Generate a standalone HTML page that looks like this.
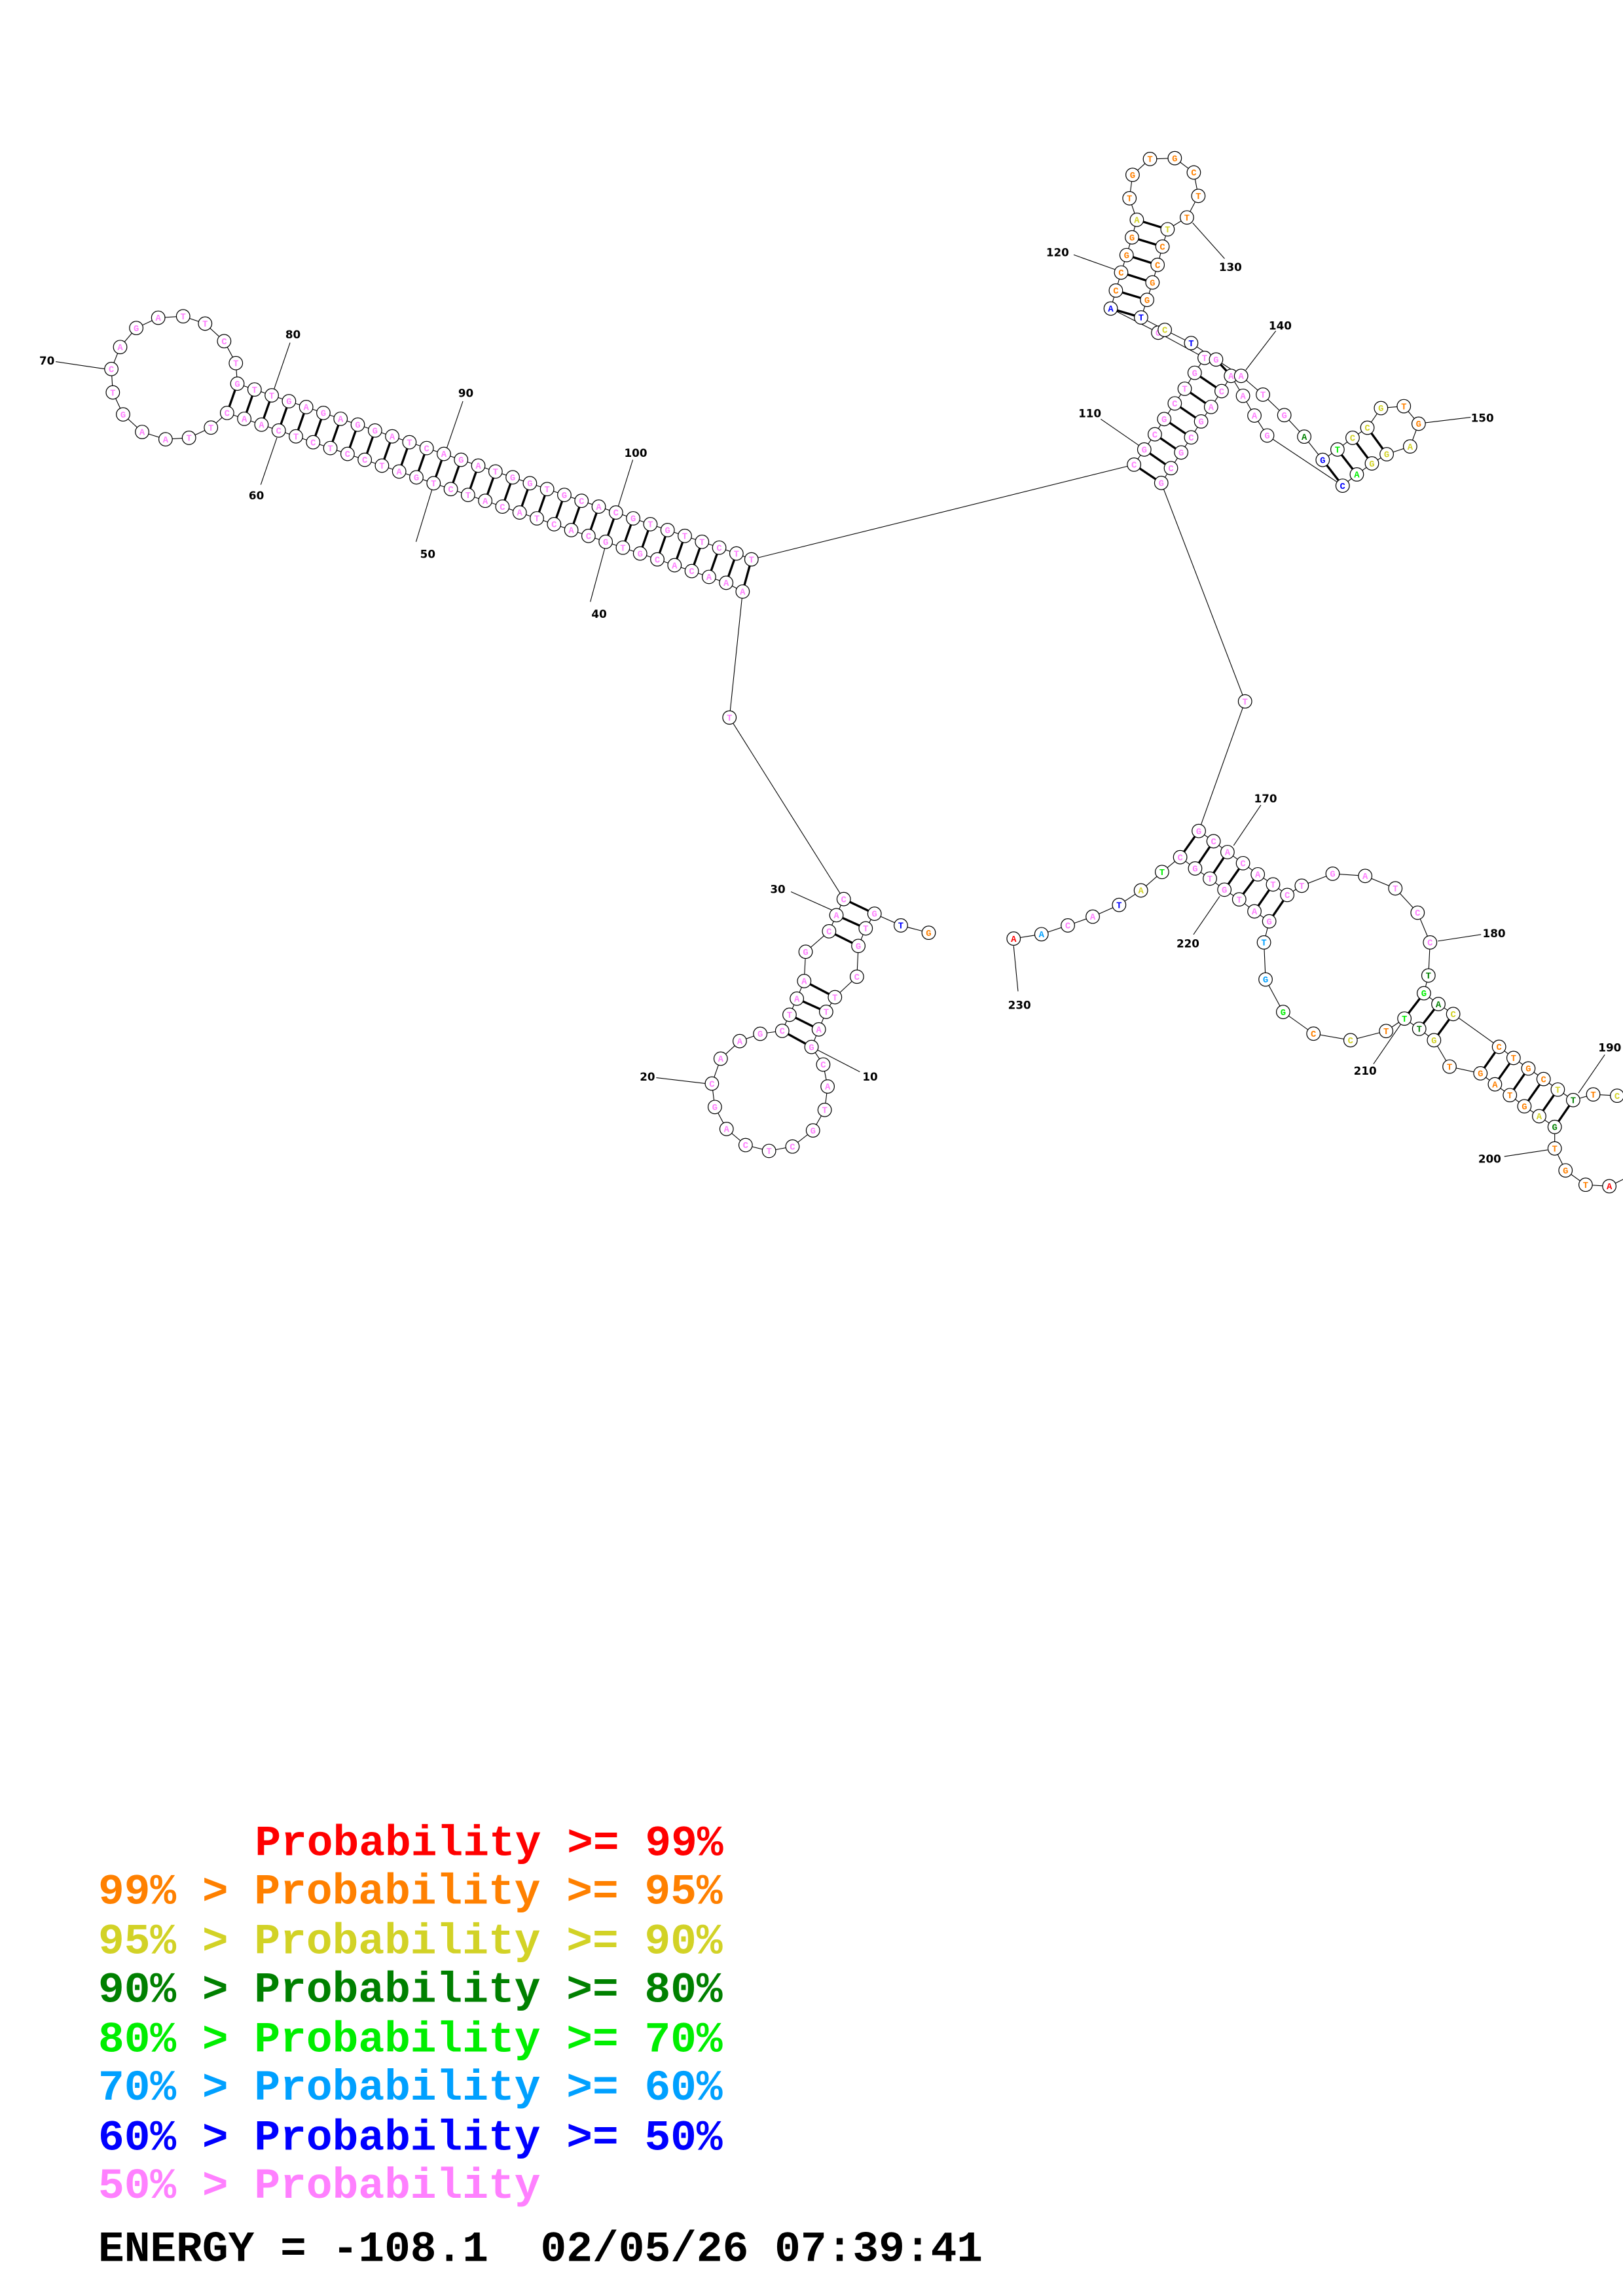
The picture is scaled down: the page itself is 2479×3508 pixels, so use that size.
<!DOCTYPE html>
<html><head><meta charset="utf-8">
<style>
html,body{margin:0;padding:0;background:#fff;}
svg{display:block;}
circle{fill:#fff;stroke:#000;stroke-width:0.55;}
.b{fill:none;stroke:#000;stroke-width:0.5;}
.p{stroke:#000;stroke-width:1.5;}
text.n{font-family:"Liberation Mono",monospace;font-weight:bold;font-size:6.2px;text-anchor:middle;fill:#ff80ff;}
text.l{font-family:"DejaVu Sans","Liberation Sans",sans-serif;font-weight:bold;font-size:7.5px;text-anchor:middle;fill:#000;}
text.g{font-family:"Liberation Mono",monospace;font-weight:bold;font-size:29.6px;white-space:pre;}
.r{fill:#ff0000!important}.o{fill:#ff8000!important}.y{fill:#d2d226!important}.dg{fill:#008000!important}.gr{fill:#00ee00!important}.lb{fill:#00a0ff!important}.bl{fill:#0000ff!important}.pk{fill:#ff80ff!important}
</style></head><body>
<svg width="2479" height="3508" viewBox="0 0 1108 1568" xmlns="http://www.w3.org/2000/svg">
<!-- backbones -->
<polyline class="b" points="513,382 502.75,378 491,374 479.25,370 467.5,366 455.75,362 444,358 432.25,354 420.5,350 408.75,346 397,342 385.25,338 373.5,334 361.75,330 350,326 338.25,322 326.5,318 314.75,314 303,310 291.25,306 279.5,302 267.75,298 256,294 244.25,290 232.5,286 220.75,282 209,278 197.25,274 185.5,270 173.75,266 162,262 161,248 153,233 140,221 125,216 108,217 93,224 82,237 76,252 77,268 84,283 97,295 113,300 129,299 144,292 155,282 166.75,286 178.5,290 190.25,294 202,298 213.75,302 225.5,306 237.25,310 249,314 260.75,318 272.5,322 284.25,326 296,330 307.75,334 319.5,338 331.25,342 343,346 354.75,350 366.5,354 378.25,358 390,362 401.75,366 413.5,370 425.25,374 437,378 448.75,382 460.5,386 472.25,390 484,394 495.75,398 507,404 498,490 576,614"/>
<polyline class="b" points="634,637 615,632 597,624 591,634 586,646 585,667 570,681 564,691 559,703 554,715 562,727 565,742 563,758 555,772 541,783 525,786 509,782 496,771 488,756 486,740 492,723 505,711 519,706 534,704 539,693 544,682 549,670 550,650 566,636 571,625 576,614"/>
<polyline class="b" points="513,382 774.2,317.3 781.2,307 788.4,296.6 794.8,286.2 802,275.5 808.8,265.5 815.6,254.6 822.4,244.4 790.7,227.2 758.3,210.7 761.8,198.4 765.4,186.1 769.1,174.2 772.8,162.1 776.1,150.1 771.1,135.4 773.2,119.4 785.1,108.6 802,108 815,117.8 818.1,133.8 810.3,148.5 797.1,156.6 793.6,168.4 790.3,180.9 786.8,192.9 783.1,204.8 779,216.8 795.2,225.3 813.2,234.3 830.2,245.5 847.3,256.7 862.2,269.5 876.8,283.5 890.4,298.2 903,314.1 913.1,307 923.4,299 933.5,292.1 942.8,278.7 958.4,277.4 968.5,289.4 962.7,304.9 946.7,310.2 936.6,316.5 926.3,324 916.6,331.7 865.1,297.4 856.4,283.8 848.6,270.3 840.4,256.7 834,267.1 826.8,277.9 820,287.8 813.2,298.7 806.4,309 799.4,319.7 792.8,329.8 850,479 818.4,567.5"/>
<polyline class="b" points="818.4,567.5 828.5,574.5 838,581.9 848.6,589.5 858.7,597.1 869.1,604 878.8,611.2 888.7,604.9 909.8,596.7 932,598.2 952.6,606.7 967.8,623.3 976.3,643.6 975.2,666.2 972.1,678.3 982,685.7 992.1,692.5 1023.4,714.9 1033.3,722.5 1043.4,729.7 1053.8,736.9 1063.5,744.1 1074,751.3 1087.7,747.4 1104,748.3 1115,748"/>
<polyline class="b" points="1115,802 1098.7,810.1 1082.5,809.1 1068.8,799.3 1061.4,784.3 1061.4,769.6 1050.8,762.3 1040.7,755.5 1030.8,747.9 1020.6,740.5 1010.7,733 989.6,728.4 979,710.4 968.9,702.6 958.8,695.6 946.3,704.1 922,710.4 896.7,705.9 876,691.1 864,668.9 862.9,643.6 866.5,629.2 856.4,622.4 846,614.2 835.9,607.6 826,600 815.9,593.1 805.7,585.4 793.3,595.5 778.9,608.1 764,618 746,626 729,632 711,638 692,641"/>
<!-- pair lines -->
<g class="p">
<line x1="162" y1="262" x2="155" y2="282"/><line x1="173.75" y1="266" x2="166.75" y2="286"/><line x1="185.5" y1="270" x2="178.5" y2="290"/><line x1="197.25" y1="274" x2="190.25" y2="294"/><line x1="209" y1="278" x2="202" y2="298"/><line x1="220.75" y1="282" x2="213.75" y2="302"/><line x1="232.5" y1="286" x2="225.5" y2="306"/><line x1="244.25" y1="290" x2="237.25" y2="310"/><line x1="256" y1="294" x2="249" y2="314"/><line x1="267.75" y1="298" x2="260.75" y2="318"/><line x1="279.5" y1="302" x2="272.5" y2="322"/><line x1="291.25" y1="306" x2="284.25" y2="326"/><line x1="303" y1="310" x2="296" y2="330"/><line x1="314.75" y1="314" x2="307.75" y2="334"/><line x1="326.5" y1="318" x2="319.5" y2="338"/><line x1="338.25" y1="322" x2="331.25" y2="342"/><line x1="350" y1="326" x2="343" y2="346"/><line x1="361.75" y1="330" x2="354.75" y2="350"/><line x1="373.5" y1="334" x2="366.5" y2="354"/><line x1="385.25" y1="338" x2="378.25" y2="358"/><line x1="397" y1="342" x2="390" y2="362"/><line x1="408.75" y1="346" x2="401.75" y2="366"/><line x1="420.5" y1="350" x2="413.5" y2="370"/><line x1="432.25" y1="354" x2="425.25" y2="374"/><line x1="444" y1="358" x2="437" y2="378"/><line x1="455.75" y1="362" x2="448.75" y2="382"/><line x1="467.5" y1="366" x2="460.5" y2="386"/><line x1="479.25" y1="370" x2="472.25" y2="390"/><line x1="491" y1="374" x2="484" y2="394"/><line x1="502.75" y1="378" x2="495.75" y2="398"/><line x1="513" y1="382" x2="507" y2="404"/>
<line x1="576" y1="614" x2="597" y2="624"/><line x1="571" y1="625" x2="591" y2="634"/><line x1="566" y1="636" x2="586" y2="646"/>
<line x1="549" y1="670" x2="570" y2="681"/><line x1="544" y1="682" x2="564" y2="691"/><line x1="539" y1="693" x2="559" y2="703"/><line x1="534" y1="704" x2="554" y2="715"/>
<line x1="815.6" y1="254.6" x2="834" y2="267.1"/><line x1="808.8" y1="265.5" x2="826.8" y2="277.9"/><line x1="802" y1="275.5" x2="820" y2="287.8"/><line x1="794.8" y1="286.2" x2="813.2" y2="298.7"/><line x1="788.4" y1="296.6" x2="806.4" y2="309"/><line x1="781.2" y1="307" x2="799.4" y2="319.7"/><line x1="774.2" y1="317.3" x2="792.8" y2="329.8"/>
<line x1="830.2" y1="245.5" x2="840.4" y2="256.7"/>
<line x1="776.1" y1="150.1" x2="797.1" y2="156.6"/><line x1="772.8" y1="162.1" x2="793.6" y2="168.4"/><line x1="769.1" y1="174.2" x2="790.3" y2="180.9"/><line x1="765.4" y1="186.1" x2="786.8" y2="192.9"/><line x1="761.8" y1="198.4" x2="783.1" y2="204.8"/><line x1="758.3" y1="210.7" x2="779" y2="216.8"/>
<line x1="903" y1="314.1" x2="916.6" y2="331.7"/><line x1="913.1" y1="307" x2="926.3" y2="324"/><line x1="923.4" y1="299" x2="936.6" y2="316.5"/><line x1="933.5" y1="292.1" x2="946.7" y2="310.2"/>
<line x1="818.4" y1="567.5" x2="805.7" y2="585.4"/><line x1="828.5" y1="574.5" x2="815.9" y2="593.1"/><line x1="838" y1="581.9" x2="826" y2="600"/><line x1="848.6" y1="589.5" x2="835.9" y2="607.6"/><line x1="858.7" y1="597.1" x2="846" y2="614.2"/><line x1="869.1" y1="604" x2="856.4" y2="622.4"/><line x1="878.8" y1="611.2" x2="866.5" y2="629.2"/>
<line x1="972.1" y1="678.3" x2="958.8" y2="695.6"/><line x1="982" y1="685.7" x2="968.9" y2="702.6"/><line x1="992.1" y1="692.5" x2="979" y2="710.4"/><line x1="1023.4" y1="714.9" x2="1010.7" y2="733"/><line x1="1033.3" y1="722.5" x2="1020.6" y2="740.5"/><line x1="1043.4" y1="729.7" x2="1030.8" y2="747.9"/><line x1="1053.8" y1="736.9" x2="1040.7" y2="755.5"/><line x1="1063.5" y1="744.1" x2="1050.8" y2="762.3"/><line x1="1074" y1="751.3" x2="1061.4" y2="769.6"/>
</g>
<!-- label lines -->
<g class="b">
<line x1="38" y1="247" x2="72" y2="252"/><line x1="198" y1="234" x2="187" y2="266"/><line x1="189" y1="299" x2="178" y2="331"/><line x1="316" y1="274" x2="305" y2="306"/><line x1="295" y1="334" x2="284" y2="370"/><line x1="432" y1="314" x2="422" y2="346"/><line x1="413" y1="374" x2="403" y2="411"/>
<line x1="540" y1="609" x2="569" y2="622"/><line x1="448" y1="736" x2="482" y2="740"/><line x1="558" y1="717" x2="587" y2="732"/>
<line x1="733" y1="174" x2="761" y2="184"/><line x1="814.2" y1="152.2" x2="836" y2="176.6"/><line x1="850.5" y1="252.7" x2="871" y2="226"/><line x1="751.5" y1="286.2" x2="777.7" y2="304.3"/><line x1="973" y1="288.7" x2="1004" y2="285"/>
<line x1="860.8" y1="549.8" x2="842.2" y2="577.4"/><line x1="814.8" y1="638.2" x2="832.7" y2="612.1"/><line x1="981.6" y1="642.7" x2="1011.1" y2="638.2"/><line x1="937.7" y1="726.6" x2="956.2" y2="699.6"/><line x1="1095.6" y1="720.3" x2="1077.6" y2="746.5"/><line x1="1027" y1="789.8" x2="1056.5" y2="785.3"/><line x1="692" y1="646" x2="695" y2="677"/>
</g>
<!-- nucleotides -->
<g id="nodes">
<!-- upper stem -->
<circle cx="162" cy="262" r="4.6"/><text class="n" x="162" y="264.1">G</text>
<circle cx="173.75" cy="266" r="4.6"/><text class="n" x="173.75" y="268.1">T</text>
<circle cx="185.5" cy="270" r="4.6"/><text class="n" x="185.5" y="272.1">T</text>
<circle cx="197.25" cy="274" r="4.6"/><text class="n" x="197.25" y="276.1">G</text>
<circle cx="209" cy="278" r="4.6"/><text class="n" x="209" y="280.1">A</text>
<circle cx="220.75" cy="282" r="4.6"/><text class="n" x="220.75" y="284.1">G</text>
<circle cx="232.5" cy="286" r="4.6"/><text class="n" x="232.5" y="288.1">A</text>
<circle cx="244.25" cy="290" r="4.6"/><text class="n" x="244.25" y="292.1">G</text>
<circle cx="256" cy="294" r="4.6"/><text class="n" x="256" y="296.1">G</text>
<circle cx="267.75" cy="298" r="4.6"/><text class="n" x="267.75" y="300.1">A</text>
<circle cx="279.5" cy="302" r="4.6"/><text class="n" x="279.5" y="304.1">T</text>
<circle cx="291.25" cy="306" r="4.6"/><text class="n" x="291.25" y="308.1">C</text>
<circle cx="303" cy="310" r="4.6"/><text class="n" x="303" y="312.1">A</text>
<circle cx="314.75" cy="314" r="4.6"/><text class="n" x="314.75" y="316.1">G</text>
<circle cx="326.5" cy="318" r="4.6"/><text class="n" x="326.5" y="320.1">A</text>
<circle cx="338.25" cy="322" r="4.6"/><text class="n" x="338.25" y="324.1">T</text>
<circle cx="350" cy="326" r="4.6"/><text class="n" x="350" y="328.1">G</text>
<circle cx="361.75" cy="330" r="4.6"/><text class="n" x="361.75" y="332.1">G</text>
<circle cx="373.5" cy="334" r="4.6"/><text class="n" x="373.5" y="336.1">T</text>
<circle cx="385.25" cy="338" r="4.6"/><text class="n" x="385.25" y="340.1">G</text>
<circle cx="397" cy="342" r="4.6"/><text class="n" x="397" y="344.1">C</text>
<circle cx="408.75" cy="346" r="4.6"/><text class="n" x="408.75" y="348.1">A</text>
<circle cx="420.5" cy="350" r="4.6"/><text class="n" x="420.5" y="352.1">C</text>
<circle cx="432.25" cy="354" r="4.6"/><text class="n" x="432.25" y="356.1">G</text>
<circle cx="444" cy="358" r="4.6"/><text class="n" x="444" y="360.1">T</text>
<circle cx="455.75" cy="362" r="4.6"/><text class="n" x="455.75" y="364.1">G</text>
<circle cx="467.5" cy="366" r="4.6"/><text class="n" x="467.5" y="368.1">T</text>
<circle cx="479.25" cy="370" r="4.6"/><text class="n" x="479.25" y="372.1">T</text>
<circle cx="491" cy="374" r="4.6"/><text class="n" x="491" y="376.1">C</text>
<circle cx="502.75" cy="378" r="4.6"/><text class="n" x="502.75" y="380.1">T</text>
<circle cx="513" cy="382" r="4.6"/><text class="n" x="513" y="384.1">T</text>
<!-- lower stem -->
<circle cx="155" cy="282" r="4.6"/><text class="n" x="155" y="284.1">C</text>
<circle cx="166.75" cy="286" r="4.6"/><text class="n" x="166.75" y="288.1">A</text>
<circle cx="178.5" cy="290" r="4.6"/><text class="n" x="178.5" y="292.1">A</text>
<circle cx="190.25" cy="294" r="4.6"/><text class="n" x="190.25" y="296.1">C</text>
<circle cx="202" cy="298" r="4.6"/><text class="n" x="202" y="300.1">T</text>
<circle cx="213.75" cy="302" r="4.6"/><text class="n" x="213.75" y="304.1">C</text>
<circle cx="225.5" cy="306" r="4.6"/><text class="n" x="225.5" y="308.1">T</text>
<circle cx="237.25" cy="310" r="4.6"/><text class="n" x="237.25" y="312.1">C</text>
<circle cx="249" cy="314" r="4.6"/><text class="n" x="249" y="316.1">C</text>
<circle cx="260.75" cy="318" r="4.6"/><text class="n" x="260.75" y="320.1">T</text>
<circle cx="272.5" cy="322" r="4.6"/><text class="n" x="272.5" y="324.1">A</text>
<circle cx="284.25" cy="326" r="4.6"/><text class="n" x="284.25" y="328.1">G</text>
<circle cx="296" cy="330" r="4.6"/><text class="n" x="296" y="332.1">T</text>
<circle cx="307.75" cy="334" r="4.6"/><text class="n" x="307.75" y="336.1">C</text>
<circle cx="319.5" cy="338" r="4.6"/><text class="n" x="319.5" y="340.1">T</text>
<circle cx="331.25" cy="342" r="4.6"/><text class="n" x="331.25" y="344.1">A</text>
<circle cx="343" cy="346" r="4.6"/><text class="n" x="343" y="348.1">C</text>
<circle cx="354.75" cy="350" r="4.6"/><text class="n" x="354.75" y="352.1">A</text>
<circle cx="366.5" cy="354" r="4.6"/><text class="n" x="366.5" y="356.1">T</text>
<circle cx="378.25" cy="358" r="4.6"/><text class="n" x="378.25" y="360.1">C</text>
<circle cx="390" cy="362" r="4.6"/><text class="n" x="390" y="364.1">A</text>
<circle cx="401.75" cy="366" r="4.6"/><text class="n" x="401.75" y="368.1">C</text>
<circle cx="413.5" cy="370" r="4.6"/><text class="n" x="413.5" y="372.1">G</text>
<circle cx="425.25" cy="374" r="4.6"/><text class="n" x="425.25" y="376.1">T</text>
<circle cx="437" cy="378" r="4.6"/><text class="n" x="437" y="380.1">G</text>
<circle cx="448.75" cy="382" r="4.6"/><text class="n" x="448.75" y="384.1">C</text>
<circle cx="460.5" cy="386" r="4.6"/><text class="n" x="460.5" y="388.1">A</text>
<circle cx="472.25" cy="390" r="4.6"/><text class="n" x="472.25" y="392.1">C</text>
<circle cx="484" cy="394" r="4.6"/><text class="n" x="484" y="396.1">A</text>
<circle cx="495.75" cy="398" r="4.6"/><text class="n" x="495.75" y="400.1">A</text>
<circle cx="507" cy="404" r="4.6"/><text class="n" x="507" y="406.1">A</text>
<!-- loop 70 -->
<circle cx="161" cy="248" r="4.6"/><text class="n" x="161" y="250.1">T</text>
<circle cx="153" cy="233" r="4.6"/><text class="n" x="153" y="235.1">C</text>
<circle cx="140" cy="221" r="4.6"/><text class="n" x="140" y="223.1">T</text>
<circle cx="125" cy="216" r="4.6"/><text class="n" x="125" y="218.1">T</text>
<circle cx="108" cy="217" r="4.6"/><text class="n" x="108" y="219.1">A</text>
<circle cx="93" cy="224" r="4.6"/><text class="n" x="93" y="226.1">G</text>
<circle cx="82" cy="237" r="4.6"/><text class="n" x="82" y="239.1">A</text>
<circle cx="76" cy="252" r="4.6"/><text class="n" x="76" y="254.1">C</text>
<circle cx="77" cy="268" r="4.6"/><text class="n" x="77" y="270.1">T</text>
<circle cx="84" cy="283" r="4.6"/><text class="n" x="84" y="285.1">G</text>
<circle cx="97" cy="295" r="4.6"/><text class="n" x="97" y="297.1">A</text>
<circle cx="113" cy="300" r="4.6"/><text class="n" x="113" y="302.1">A</text>
<circle cx="129" cy="299" r="4.6"/><text class="n" x="129" y="301.1">T</text>
<circle cx="144" cy="292" r="4.6"/><text class="n" x="144" y="294.1">T</text>
<circle cx="498" cy="490" r="4.6"/><text class="n" x="498" y="492.1">T</text>
<!-- bottom left -->
<circle cx="634" cy="637" r="4.6"/><text class="n o" x="634" y="639.1">G</text>
<circle cx="615" cy="632" r="4.6"/><text class="n bl" x="615" y="634.1">T</text>
<circle cx="597" cy="624" r="4.6"/><text class="n" x="597" y="626.1">G</text>
<circle cx="591" cy="634" r="4.6"/><text class="n" x="591" y="636.1">T</text>
<circle cx="586" cy="646" r="4.6"/><text class="n" x="586" y="648.1">G</text>
<circle cx="585" cy="667" r="4.6"/><text class="n" x="585" y="669.1">C</text>
<circle cx="570" cy="681" r="4.6"/><text class="n" x="570" y="683.1">T</text>
<circle cx="564" cy="691" r="4.6"/><text class="n" x="564" y="693.1">T</text>
<circle cx="559" cy="703" r="4.6"/><text class="n" x="559" y="705.1">A</text>
<circle cx="554" cy="715" r="4.6"/><text class="n" x="554" y="717.1">G</text>
<circle cx="562" cy="727" r="4.6"/><text class="n" x="562" y="729.1">C</text>
<circle cx="565" cy="742" r="4.6"/><text class="n" x="565" y="744.1">A</text>
<circle cx="563" cy="758" r="4.6"/><text class="n" x="563" y="760.1">T</text>
<circle cx="555" cy="772" r="4.6"/><text class="n" x="555" y="774.1">G</text>
<circle cx="541" cy="783" r="4.6"/><text class="n" x="541" y="785.1">C</text>
<circle cx="525" cy="786" r="4.6"/><text class="n" x="525" y="788.1">T</text>
<circle cx="509" cy="782" r="4.6"/><text class="n" x="509" y="784.1">C</text>
<circle cx="496" cy="771" r="4.6"/><text class="n" x="496" y="773.1">A</text>
<circle cx="488" cy="756" r="4.6"/><text class="n" x="488" y="758.1">G</text>
<circle cx="486" cy="740" r="4.6"/><text class="n" x="486" y="742.1">C</text>
<circle cx="492" cy="723" r="4.6"/><text class="n" x="492" y="725.1">A</text>
<circle cx="505" cy="711" r="4.6"/><text class="n" x="505" y="713.1">A</text>
<circle cx="519" cy="706" r="4.6"/><text class="n" x="519" y="708.1">G</text>
<circle cx="534" cy="704" r="4.6"/><text class="n" x="534" y="706.1">C</text>
<circle cx="539" cy="693" r="4.6"/><text class="n" x="539" y="695.1">T</text>
<circle cx="544" cy="682" r="4.6"/><text class="n" x="544" y="684.1">A</text>
<circle cx="549" cy="670" r="4.6"/><text class="n" x="549" y="672.1">A</text>
<circle cx="550" cy="650" r="4.6"/><text class="n" x="550" y="652.1">G</text>
<circle cx="566" cy="636" r="4.6"/><text class="n" x="566" y="638.1">C</text>
<circle cx="571" cy="625" r="4.6"/><text class="n" x="571" y="627.1">A</text>
<circle cx="576" cy="614" r="4.6"/><text class="n" x="576" y="616.1">C</text>
<!-- top right -->
<circle cx="774.2" cy="317.3" r="4.6"/><text class="n" x="774.2" y="319.4">C</text>
<circle cx="781.2" cy="307" r="4.6"/><text class="n" x="781.2" y="309.1">G</text>
<circle cx="788.4" cy="296.6" r="4.6"/><text class="n" x="788.4" y="298.7">C</text>
<circle cx="794.8" cy="286.2" r="4.6"/><text class="n" x="794.8" y="288.3">G</text>
<circle cx="802" cy="275.5" r="4.6"/><text class="n" x="802" y="277.6">C</text>
<circle cx="808.8" cy="265.5" r="4.6"/><text class="n" x="808.8" y="267.6">T</text>
<circle cx="815.6" cy="254.6" r="4.6"/><text class="n" x="815.6" y="256.7">G</text>
<circle cx="834" cy="267.1" r="4.6"/><text class="n" x="834" y="269.2">C</text>
<circle cx="826.8" cy="277.9" r="4.6"/><text class="n" x="826.8" y="280">A</text>
<circle cx="820" cy="287.8" r="4.6"/><text class="n" x="820" y="289.9">G</text>
<circle cx="813.2" cy="298.7" r="4.6"/><text class="n" x="813.2" y="300.8">C</text>
<circle cx="806.4" cy="309" r="4.6"/><text class="n" x="806.4" y="311.1">G</text>
<circle cx="799.4" cy="319.7" r="4.6"/><text class="n" x="799.4" y="321.8">C</text>
<circle cx="792.8" cy="329.8" r="4.6"/><text class="n" x="792.8" y="331.9">G</text>
<circle cx="822.4" cy="244.4" r="4.6"/><text class="n" x="822.4" y="246.5">T</text>
<circle cx="830.2" cy="245.5" r="4.6"/><text class="n" x="830.2" y="247.6">G</text>
<circle cx="840.4" cy="256.7" r="4.6"/><text class="n" x="840.4" y="258.8">A</text>
<circle cx="847.3" cy="256.7" r="4.6"/><text class="n" x="847.3" y="258.8">A</text>
<circle cx="848.6" cy="270.3" r="4.6"/><text class="n" x="848.6" y="272.4">A</text>
<circle cx="862.2" cy="269.5" r="4.6"/><text class="n" x="862.2" y="271.6">T</text>
<circle cx="856.4" cy="283.8" r="4.6"/><text class="n" x="856.4" y="285.9">A</text>
<circle cx="876.8" cy="283.5" r="4.6"/><text class="n" x="876.8" y="285.6">G</text>
<circle cx="865.1" cy="297.4" r="4.6"/><text class="n" x="865.1" y="299.5">G</text>
<circle cx="890.4" cy="298.2" r="4.6"/><text class="n dg" x="890.4" y="300.3">A</text>
<circle cx="903" cy="314.1" r="4.6"/><text class="n bl" x="903" y="316.2">G</text>
<circle cx="916.6" cy="331.7" r="4.6"/><text class="n bl" x="916.6" y="333.8">C</text>
<circle cx="913.1" cy="307" r="4.6"/><text class="n gr" x="913.1" y="309.1">T</text>
<circle cx="926.3" cy="324" r="4.6"/><text class="n gr" x="926.3" y="326.1">A</text>
<circle cx="923.4" cy="299" r="4.6"/><text class="n y" x="923.4" y="301.1">C</text>
<circle cx="936.6" cy="316.5" r="4.6"/><text class="n y" x="936.6" y="318.6">G</text>
<circle cx="933.5" cy="292.1" r="4.6"/><text class="n y" x="933.5" y="294.2">C</text>
<circle cx="946.7" cy="310.2" r="4.6"/><text class="n y" x="946.7" y="312.3">G</text>
<circle cx="942.8" cy="278.7" r="4.6"/><text class="n y" x="942.8" y="280.8">G</text>
<circle cx="958.4" cy="277.4" r="4.6"/><text class="n o" x="958.4" y="279.5">T</text>
<circle cx="968.5" cy="289.4" r="4.6"/><text class="n o" x="968.5" y="291.5">G</text>
<circle cx="962.7" cy="304.9" r="4.6"/><text class="n y" x="962.7" y="307">A</text>
<circle cx="790.7" cy="227.2" r="4.6"/><text class="n" x="790.7" y="229.3">C</text>
<circle cx="795.2" cy="225.3" r="4.6"/><text class="n y" x="795.2" y="227.4">C</text>
<circle cx="813.2" cy="234.3" r="4.6"/><text class="n bl" x="813.2" y="236.4">T</text>
<circle cx="758.3" cy="210.7" r="4.6"/><text class="n bl" x="758.3" y="212.8">A</text>
<circle cx="779" cy="216.8" r="4.6"/><text class="n bl" x="779" y="218.9">T</text>
<circle cx="761.8" cy="198.4" r="4.6"/><text class="n o" x="761.8" y="200.5">C</text>
<circle cx="765.4" cy="186.1" r="4.6"/><text class="n o" x="765.4" y="188.2">C</text>
<circle cx="769.1" cy="174.2" r="4.6"/><text class="n o" x="769.1" y="176.3">G</text>
<circle cx="772.8" cy="162.1" r="4.6"/><text class="n o" x="772.8" y="164.2">G</text>
<circle cx="776.1" cy="150.1" r="4.6"/><text class="n y" x="776.1" y="152.2">A</text>
<circle cx="771.1" cy="135.4" r="4.6"/><text class="n o" x="771.1" y="137.5">T</text>
<circle cx="773.2" cy="119.4" r="4.6"/><text class="n o" x="773.2" y="121.5">G</text>
<circle cx="785.1" cy="108.6" r="4.6"/><text class="n o" x="785.1" y="110.7">T</text>
<circle cx="802" cy="108" r="4.6"/><text class="n o" x="802" y="110.1">G</text>
<circle cx="815" cy="117.8" r="4.6"/><text class="n o" x="815" y="119.9">C</text>
<circle cx="818.1" cy="133.8" r="4.6"/><text class="n o" x="818.1" y="135.9">T</text>
<circle cx="810.3" cy="148.5" r="4.6"/><text class="n o" x="810.3" y="150.6">T</text>
<circle cx="797.1" cy="156.6" r="4.6"/><text class="n y" x="797.1" y="158.7">T</text>
<circle cx="793.6" cy="168.4" r="4.6"/><text class="n o" x="793.6" y="170.5">C</text>
<circle cx="790.3" cy="180.9" r="4.6"/><text class="n o" x="790.3" y="183">C</text>
<circle cx="786.8" cy="192.9" r="4.6"/><text class="n o" x="786.8" y="195">G</text>
<circle cx="783.1" cy="204.8" r="4.6"/><text class="n o" x="783.1" y="206.9">G</text>
<circle cx="850" cy="479" r="4.6"/><text class="n" x="850" y="481.1">T</text>
<!-- bottom right -->
<circle cx="818.4" cy="567.5" r="4.6"/><text class="n" x="818.4" y="569.6">G</text>
<circle cx="828.5" cy="574.5" r="4.6"/><text class="n" x="828.5" y="576.6">C</text>
<circle cx="838" cy="581.9" r="4.6"/><text class="n" x="838" y="584">A</text>
<circle cx="848.6" cy="589.5" r="4.6"/><text class="n" x="848.6" y="591.6">C</text>
<circle cx="858.7" cy="597.1" r="4.6"/><text class="n" x="858.7" y="599.2">A</text>
<circle cx="869.1" cy="604" r="4.6"/><text class="n" x="869.1" y="606.1">T</text>
<circle cx="878.8" cy="611.2" r="4.6"/><text class="n" x="878.8" y="613.3">C</text>
<circle cx="888.7" cy="604.9" r="4.6"/><text class="n" x="888.7" y="607">T</text>
<circle cx="909.8" cy="596.7" r="4.6"/><text class="n" x="909.8" y="598.8">G</text>
<circle cx="932" cy="598.2" r="4.6"/><text class="n" x="932" y="600.3">A</text>
<circle cx="952.6" cy="606.7" r="4.6"/><text class="n" x="952.6" y="608.8">T</text>
<circle cx="967.8" cy="623.3" r="4.6"/><text class="n" x="967.8" y="625.4">C</text>
<circle cx="976.3" cy="643.6" r="4.6"/><text class="n" x="976.3" y="645.7">C</text>
<circle cx="975.2" cy="666.2" r="4.6"/><text class="n dg" x="975.2" y="668.3">T</text>
<circle cx="972.1" cy="678.3" r="4.6"/><text class="n gr" x="972.1" y="680.4">G</text>
<circle cx="982" cy="685.7" r="4.6"/><text class="n dg" x="982" y="687.8">A</text>
<circle cx="992.1" cy="692.5" r="4.6"/><text class="n y" x="992.1" y="694.6">C</text>
<circle cx="1023.4" cy="714.9" r="4.6"/><text class="n o" x="1023.4" y="717">C</text>
<circle cx="1033.3" cy="722.5" r="4.6"/><text class="n o" x="1033.3" y="724.6">T</text>
<circle cx="1043.4" cy="729.7" r="4.6"/><text class="n o" x="1043.4" y="731.8">G</text>
<circle cx="1053.8" cy="736.9" r="4.6"/><text class="n o" x="1053.8" y="739">C</text>
<circle cx="1063.5" cy="744.1" r="4.6"/><text class="n y" x="1063.5" y="746.2">T</text>
<circle cx="1074" cy="751.3" r="4.6"/><text class="n dg" x="1074" y="753.4">T</text>
<circle cx="1087.7" cy="747.4" r="4.6"/><text class="n o" x="1087.7" y="749.5">T</text>
<circle cx="1104" cy="748.3" r="4.6"/><text class="n y" x="1104" y="750.4">C</text>
<circle cx="1061.4" cy="769.6" r="4.6"/><text class="n dg" x="1061.4" y="771.7">G</text>
<circle cx="1061.4" cy="784.3" r="4.6"/><text class="n o" x="1061.4" y="786.4">T</text>
<circle cx="1068.8" cy="799.3" r="4.6"/><text class="n o" x="1068.8" y="801.4">G</text>
<circle cx="1082.5" cy="809.1" r="4.6"/><text class="n o" x="1082.5" y="811.2">T</text>
<circle cx="1098.7" cy="810.1" r="4.6"/><text class="n r" x="1098.7" y="812.2">A</text>
<circle cx="1050.8" cy="762.3" r="4.6"/><text class="n y" x="1050.8" y="764.4">A</text>
<circle cx="1040.7" cy="755.5" r="4.6"/><text class="n o" x="1040.7" y="757.6">G</text>
<circle cx="1030.8" cy="747.9" r="4.6"/><text class="n o" x="1030.8" y="750">T</text>
<circle cx="1020.6" cy="740.5" r="4.6"/><text class="n o" x="1020.6" y="742.6">A</text>
<circle cx="1010.7" cy="733" r="4.6"/><text class="n o" x="1010.7" y="735.1">G</text>
<circle cx="989.6" cy="728.4" r="4.6"/><text class="n o" x="989.6" y="730.5">T</text>
<circle cx="979" cy="710.4" r="4.6"/><text class="n y" x="979" y="712.5">G</text>
<circle cx="968.9" cy="702.6" r="4.6"/><text class="n dg" x="968.9" y="704.7">T</text>
<circle cx="958.8" cy="695.6" r="4.6"/><text class="n gr" x="958.8" y="697.7">T</text>
<circle cx="946.3" cy="704.1" r="4.6"/><text class="n o" x="946.3" y="706.2">T</text>
<circle cx="922" cy="710.4" r="4.6"/><text class="n y" x="922" y="712.5">C</text>
<circle cx="896.7" cy="705.9" r="4.6"/><text class="n o" x="896.7" y="708">C</text>
<circle cx="876" cy="691.1" r="4.6"/><text class="n gr" x="876" y="693.2">G</text>
<circle cx="864" cy="668.9" r="4.6"/><text class="n lb" x="864" y="671">G</text>
<circle cx="862.9" cy="643.6" r="4.6"/><text class="n lb" x="862.9" y="645.7">T</text>
<circle cx="866.5" cy="629.2" r="4.6"/><text class="n" x="866.5" y="631.3">G</text>
<circle cx="856.4" cy="622.4" r="4.6"/><text class="n" x="856.4" y="624.5">A</text>
<circle cx="846" cy="614.2" r="4.6"/><text class="n" x="846" y="616.3">T</text>
<circle cx="835.9" cy="607.6" r="4.6"/><text class="n" x="835.9" y="609.7">G</text>
<circle cx="826" cy="600" r="4.6"/><text class="n" x="826" y="602.1">T</text>
<circle cx="815.9" cy="593.1" r="4.6"/><text class="n" x="815.9" y="595.2">G</text>
<circle cx="805.7" cy="585.4" r="4.6"/><text class="n" x="805.7" y="587.5">C</text>
<circle cx="793.3" cy="595.5" r="4.6"/><text class="n gr" x="793.3" y="597.6">T</text>
<circle cx="778.9" cy="608.1" r="4.6"/><text class="n y" x="778.9" y="610.2">A</text>
<circle cx="764" cy="618" r="4.6"/><text class="n bl" x="764" y="620.1">T</text>
<circle cx="746" cy="626" r="4.6"/><text class="n" x="746" y="628.1">A</text>
<circle cx="729" cy="632" r="4.6"/><text class="n" x="729" y="634.1">C</text>
<circle cx="711" cy="638" r="4.6"/><text class="n lb" x="711" y="640.1">A</text>
<circle cx="692" cy="641" r="4.6"/><text class="n r" x="692" y="643.1">A</text>
</g>
<!-- position labels -->
<text class="l" x="32" y="249">70</text>
<text class="l" x="200" y="231">80</text>
<text class="l" x="175" y="341">60</text>
<text class="l" x="318" y="271">90</text>
<text class="l" x="292" y="381">50</text>
<text class="l" x="434" y="312">100</text>
<text class="l" x="409" y="422">40</text>
<text class="l" x="531" y="610">30</text>
<text class="l" x="442" y="738">20</text>
<text class="l" x="594" y="738">10</text>
<text class="l" x="722" y="175">120</text>
<text class="l" x="840" y="185">130</text>
<text class="l" x="874" y="225">140</text>
<text class="l" x="744" y="285">110</text>
<text class="l" x="1012" y="288">150</text>
<text class="l" x="864" y="548">170</text>
<text class="l" x="811" y="647">220</text>
<text class="l" x="1020" y="640">180</text>
<text class="l" x="932" y="734">210</text>
<text class="l" x="1099" y="718">190</text>
<text class="l" x="1017" y="794">200</text>
<text class="l" x="696" y="689">230</text>
<!-- legend -->
<text class="g" x="174" y="1267" fill="#ff0000">Probability &gt;= 99%</text>
<text class="g" x="67" y="1300" fill="#ff8000">99% &gt; Probability &gt;= 95%</text>
<text class="g" x="67" y="1334" fill="#d2d226">95% &gt; Probability &gt;= 90%</text>
<text class="g" x="67" y="1367" fill="#008000">90% &gt; Probability &gt;= 80%</text>
<text class="g" x="67" y="1401" fill="#00ee00">80% &gt; Probability &gt;= 70%</text>
<text class="g" x="67" y="1434" fill="#00a0ff">70% &gt; Probability &gt;= 60%</text>
<text class="g" x="67" y="1468" fill="#0000ff">60% &gt; Probability &gt;= 50%</text>
<text class="g" x="67" y="1501" fill="#ff80ff">50% &gt; Probability</text>
<text class="g" x="67" y="1544" fill="#000">ENERGY = -108.1  02/05/26 07:39:41</text>
</svg>
</body></html>
